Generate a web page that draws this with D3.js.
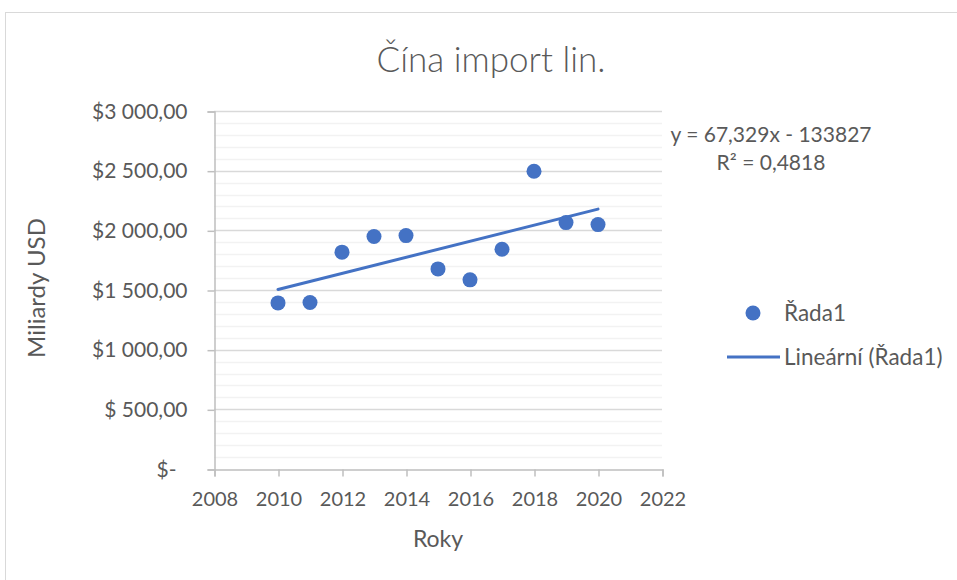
<!DOCTYPE html>
<html>
<head>
<meta charset="utf-8">
<script src="https://cdn.jsdelivr.net/npm/d3@7"></script>
<style>
  body { margin: 0; background: #fff; }
  svg text { font-family: Lato, "Open Sans", sans-serif; fill: #595959; }
</style>
</head>
<body>
<svg id="chart" width="957" height="580"></svg>
<script>
// China import with linear trend (Excel style scatter)

var years = [2010, 2011, 2012, 2013, 2014, 2015, 2016, 2017, 2018, 2019, 2020];
var importValues = [1392, 1395, 1817, 1948, 1956, 1677, 1585, 1842, 2495, 2065, 2048];

var xTicks = [2008, 2010, 2012, 2014, 2016, 2018, 2020, 2022];
var yTicks = [0, 500, 1000, 1500, 2000, 2500, 3000];
var yTickLabels = ["$-", "$ 500,00", "$1 000,00", "$1 500,00", "$2 000,00", "$2 500,00", "$3 000,00"];

// trend line coefficients as shown in the chart
var trendSlope = 67.329;
var trendIntercept = -133827;
var trendLabels = ["y = 67,329x - 133827", "R² = 0,4818"];

var chartTitle = "Čína import lin.";
var seriesName = "Řada1";
var trendName = "Lineární (Řada1)";

var svg = d3.select("#chart");
var blue = "#4472c4";

// outer chart frame
svg.append("rect")
    .attr("x", 5.5).attr("y", 12.5)
    .attr("width", 960).attr("height", 600)
    .style("fill", "none")
    .style("stroke", "#d9d9d9");

var x = d3.scaleLinear().domain([2008, 2022]).range([214, 662]);
var y = d3.scaleLinear().domain([0, 3000]).range([469, 111]);

// minor gridlines every 100
var minor = d3.range(100, 3000, 100).filter(function(v) { return v % 500 !== 0; });
svg.append("g").selectAll("line")
    .data(minor)
    .enter().append("line")
    .attr("x1", x(2008)).attr("x2", x(2022))
    .attr("y1", function(d) { return Math.round(y(d)) + 0.5; })
    .attr("y2", function(d) { return Math.round(y(d)) + 0.5; })
    .style("stroke", "#f2f2f2")
    .style("stroke-width", 1.3);

// major gridlines
svg.append("g").selectAll("line")
    .data(yTicks.filter(function(v) { return v > 0; }))
    .enter().append("line")
    .attr("x1", x(2008)).attr("x2", x(2022))
    .attr("y1", function(d) { return Math.round(y(d)) + 0.5; })
    .attr("y2", function(d) { return Math.round(y(d)) + 0.5; })
    .style("stroke", "#d9d9d9")
    .style("stroke-width", 1.3);

// y axis
var yAxis = d3.axisLeft(y)
    .tickValues(yTicks)
    .tickSize(7)
    .tickPadding(20)
    .tickFormat(function(d, i) { return yTickLabels[i]; });
var gy = svg.append("g")
    .attr("transform", "translate(" + (x(2008) + 0.5) + ",0.5)")
    .call(yAxis);

// x axis
var xAxis = d3.axisBottom(x)
    .tickValues(xTicks)
    .tickSize(7)
    .tickPadding(15)
    .tickFormat(d3.format("d"));
var gx = svg.append("g")
    .attr("transform", "translate(0.5," + (y(0) + 0.5) + ")")
    .call(xAxis);

[gx, gy].forEach(function(g) {
    g.select(".domain").style("stroke", "#bfbfbf").style("stroke-width", 1.5);
    g.selectAll(".tick line").style("stroke", "#bfbfbf").style("stroke-width", 1.5);
    g.selectAll(".tick text").style("fill", "#595959");
});
gx.selectAll(".tick text").style("font-size", "20px");
gy.selectAll(".tick text").style("font-size", "21px");
gy.selectAll(".tick text").filter(function(d) { return d === 0; }).attr("dx", -11);

// trend line
var trendYears = [years[0], years[years.length - 1]];
svg.append("line")
    .attr("x1", x(trendYears[0]))
    .attr("y1", y(trendSlope * trendYears[0] + trendIntercept))
    .attr("x2", x(trendYears[1]))
    .attr("y2", y(trendSlope * trendYears[1] + trendIntercept))
    .style("stroke", blue)
    .style("stroke-width", 3)
    .style("stroke-linecap", "round");

// points
svg.append("g").selectAll("circle")
    .data(years)
    .enter().append("circle")
    .attr("cx", function(d) { return x(d); })
    .attr("cy", function(d, i) { return y(importValues[i]); })
    .attr("r", 7.5)
    .style("fill", blue);

// title
svg.append("text")
    .attr("x", 491).attr("y", 72)
    .attr("text-anchor", "middle")
    .style("font-size", "35px")
    .style("font-weight", 300)
    .text(chartTitle);

// axis titles
svg.append("text")
    .attr("transform", "translate(45,288) rotate(-90)")
    .attr("text-anchor", "middle")
    .style("font-size", "24px")
    .text("Miliardy USD");

svg.append("text")
    .attr("x", 438).attr("y", 547)
    .attr("text-anchor", "middle")
    .style("font-size", "23px")
    .text("Roky");

// trend equation
svg.append("text")
    .attr("x", 771).attr("y", 142)
    .attr("text-anchor", "middle")
    .style("font-size", "21px")
    .text(trendLabels[0]);
svg.append("text")
    .attr("x", 771).attr("y", 170)
    .attr("text-anchor", "middle")
    .style("font-size", "21px")
    .text(trendLabels[1]);

// legend
svg.append("circle")
    .attr("cx", 753).attr("cy", 313)
    .attr("r", 7.5)
    .style("fill", blue);
svg.append("text")
    .attr("x", 784).attr("y", 321)
    .style("font-size", "22.5px")
    .text(seriesName);

svg.append("line")
    .attr("x1", 727).attr("x2", 780)
    .attr("y1", 357).attr("y2", 357)
    .style("stroke", blue)
    .style("stroke-width", 3);
svg.append("text")
    .attr("x", 784).attr("y", 365)
    .style("font-size", "22.5px")
    .text(trendName);
</script>
</body>
</html>
